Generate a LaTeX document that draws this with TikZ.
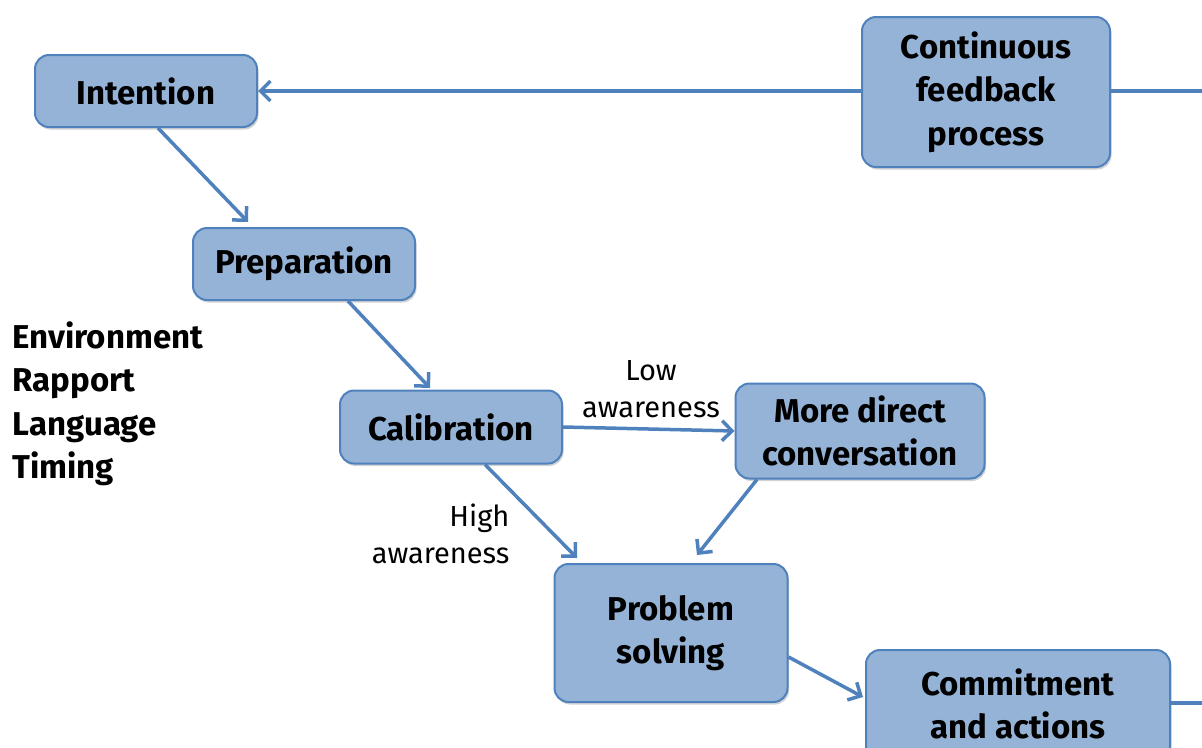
\documentclass[tikz,border=0pt]{standalone}
\usepackage{fontspec}
\setmainfont{Fira Sans}
\usetikzlibrary{arrows.meta,shadows}
\definecolor{boxfill}{HTML}{95B3D7}
\definecolor{boxline}{HTML}{4F81BD}
\tikzset{
  boxfont/.style={font=\fontsize{33}{43.5}\selectfont\bfseries},
  stepbox/.style={draw=boxline, line width=2pt, fill=boxfill, rounded corners=14pt,
    boxfont, align=center, inner sep=0pt,
    drop shadow={shadow xshift=1.5pt, shadow yshift=-2.5pt, fill=black!35, opacity=0.5}},
  conn/.style={draw=boxline, line width=3.5pt},
  arr/.style={conn, -{Straight Barb[length=10pt,width=20pt,line width=3.5pt]}},
  lbl/.style={font=\fontsize{29}{37.5}\selectfont, align=center},
}
\begin{document}
\begin{tikzpicture}[x=1pt,y=-1pt]
\useasboundingbox (0,0) rectangle (1202,747);
\begin{scope}
\clip (0,0) rectangle (1202,747);
\node[stepbox, minimum width=222pt, minimum height=72pt] (int) at (146,91) {Intention};
\node[stepbox, minimum width=248pt, minimum height=150pt] (cfp) at (986,92) {Continuous\\feedback\\process};
\node[stepbox, minimum width=222pt, minimum height=72pt] (prep) at (304,264) {Preparation};
\node[stepbox, minimum width=222pt, minimum height=73pt] (cal) at (451,427) {Calibration};
\node[stepbox, minimum width=249pt, minimum height=95pt] (mdc) at (860,431) {More direct\\conversation};
\node[stepbox, minimum width=233pt, minimum height=138pt] (ps) at (671,633) {Problem\\solving};
\node[stepbox, minimum width=304pt, minimum height=110pt] (ca) at (1018,705) {};
\node[boxfont, align=center] (catext) at (1018,704) {Commitment\\and actions};
\coordinate (re1) at (1202,91);
\coordinate (re2) at (1202,703);
\draw[conn] (cfp.east |- re1) -- (re1);
\draw[conn] (ca.east |- re2) -- (re2);
\draw[arr] (cfp.west |- int.east) -- (int.east);
\draw[arr] (int.south -| 158,0) -- (248,222);
\draw[arr] (prep.south -| 348,0) -- (430,388);
\draw[arr] (cal.east) -- (mdc.west);
\draw[arr] (cal.south -| 485,0) -- (577,558);
\draw[arr] (mdc.south -| 757,0) -- (697,555);
\draw[arr] (ps.east |- 0,657) -- (863,697);
\node[lbl] (low) at (651,389) {Low\\awareness};
\node[lbl, align=right, anchor=east] (high) at (513,534) {High\\awareness};
\node[boxfont, align=left, anchor=north west] (left) at (9,318) {Environment\\Rapport\\Language\\Timing};
\end{scope}
\end{tikzpicture}
\end{document}
